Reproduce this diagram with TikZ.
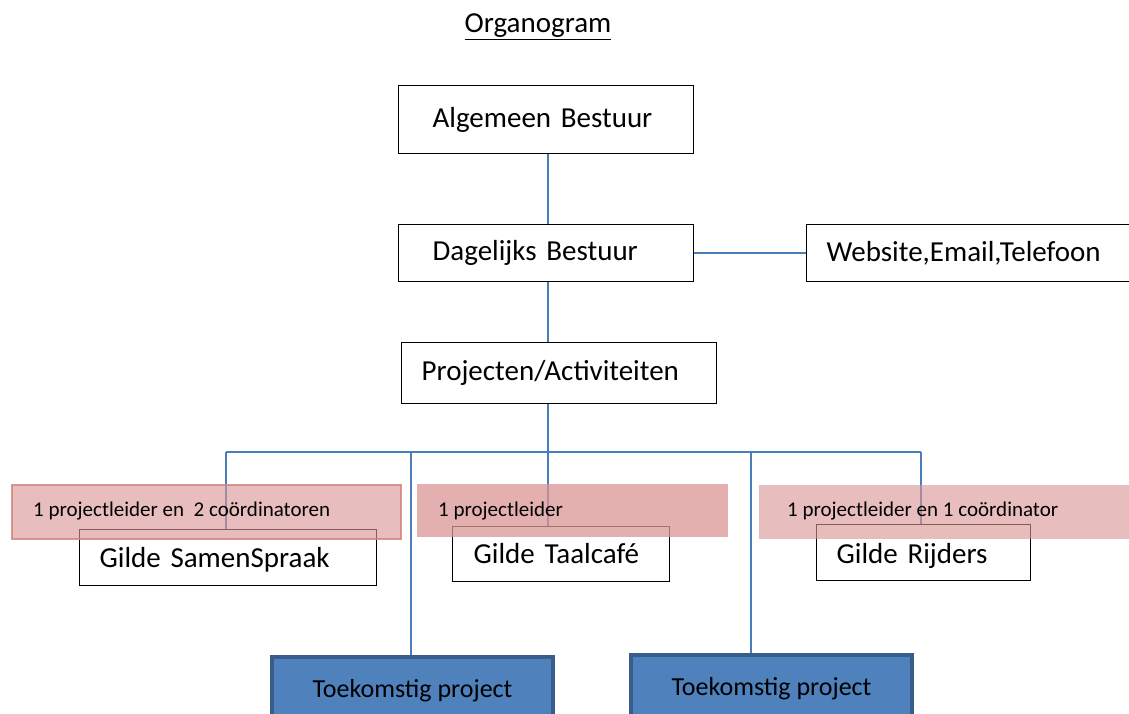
\documentclass[tikz,border=0pt]{standalone}
\usepackage{fontspec}
\setmainfont{Carlito}
\definecolor{conn}{HTML}{4A7EBB}
\definecolor{pinkband}{HTML}{D99694}
\definecolor{pinkedge}{HTML}{D47F7D}
\definecolor{toekfill}{HTML}{4F81BD}
\definecolor{toekedge}{HTML}{385D8A}
\tikzset{
  box/.style={draw=black, line width=1.2pt, fill=white, anchor=north west, align=left,
    font=\fontsize{29}{34}\selectfont, inner ysep=0pt},
  toek/.style={draw=toekedge, line width=4pt, fill=toekfill, anchor=north west,
    font=\fontsize{26}{30}\selectfont, inner sep=0pt},
  conline/.style={draw=conn, line width=1.6pt},
  band/.style={fill=pinkband},
  bandtext/.style={anchor=base west, inner sep=0pt, font=\fontsize{21}{25}\selectfont},
}
\begin{document}
\begin{tikzpicture}[x=1pt,y=-1pt]
\useasboundingbox (0,0) rectangle (1129,714);
% title
\node[font=\fontsize{29}{34}\selectfont, anchor=base] (title) at (538,33) {\underline{Organogram}};
% boxes
\node[box, minimum width=295, minimum height=68, text width=227, inner xsep=34] (alg) at (398,85) {Algemeen Bestuur};
\node[box, minimum width=295, minimum height=57, text width=227, inner xsep=34] (dag) at (398,224) {Dagelijks Bestuur};
\node[box, minimum width=326, minimum height=57, text width=286, inner xsep=20] (web) at (806,224) {Website,Email,Telefoon};
\node[box, minimum width=315, minimum height=61, text width=275, inner xsep=20] (proj) at (401,342) {Projecten/Activiteiten};
\node[box, minimum width=297, minimum height=56, text width=257, inner xsep=20, text height=24, text depth=4] (samen) at (79,529) {Gilde SamenSpraak};
\node[box, minimum width=217, minimum height=55, text width=175, inner xsep=21, text height=23, text depth=4] (taal) at (452,526) {Gilde Taalcafé};
\node[box, minimum width=214, minimum height=56, text width=174, inner xsep=20, text height=26, text depth=4] (rijd) at (816,524) {Gilde Rijders};
\node[toek, minimum width=281, minimum height=62, text height=22, text depth=4] (toek1) at (270,655) {Toekomstig project};
\node[toek, minimum width=281, minimum height=62, text height=22, text depth=4] (toek2) at (629,653) {Toekomstig project};
% bus coordinates
\coordinate (bL) at (226,452);
\coordinate (b2) at (411,452);
\coordinate (bC) at (548,452);
\coordinate (b4) at (751,452);
\coordinate (bR) at (921,452);
% connectors
\draw[conline] (alg.south -| bC) -- (dag.north -| bC);
\draw[conline] (dag.south -| bC) -- (proj.north -| bC);
\draw[conline] (dag.east) -- (web.west);
\draw[conline] (proj.south -| bC) -- (taal.north -| bC);
\draw[conline] (bL) -- (bR);
\draw[conline] (bL) -- (bL |- samen.north);
\draw[conline] (b2) -- (b2 |- toek1.north);
\draw[conline] (b4) -- (b4 |- toek2.north);
\draw[conline] (bR) -- (bR |- rijd.north);
% pink bands
\fill[band, opacity=0.62] (12,485) rectangle (401,539);
\draw[draw=pinkedge, line width=1.5pt, opacity=0.8] (12,485) rectangle (401,539);
\fill[band, opacity=0.75] (417,484) rectangle (728,537);
\fill[band, opacity=0.62] (759,485) rectangle (1129,539);
\node[bandtext] (t1) at (33,516) {1 projectleider en\ \ 2 coördinatoren};
\node[bandtext] (t2) at (438,516) {1 projectleider};
\node[bandtext] (t3) at (787,516) {1 projectleider en 1 coördinator};
\end{tikzpicture}
\end{document}
